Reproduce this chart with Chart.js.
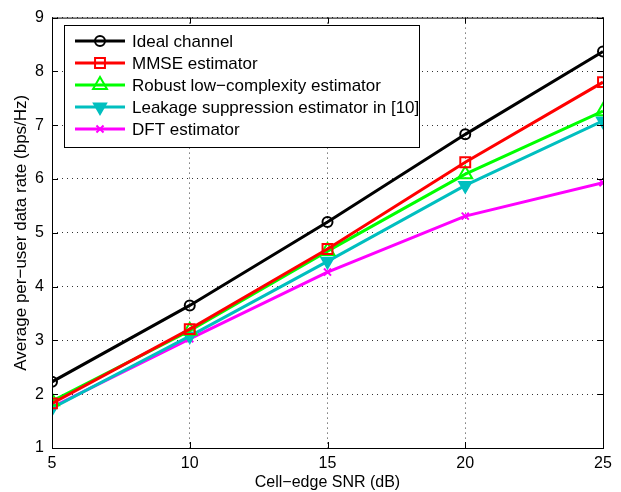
<!DOCTYPE html>
<html lang="en">
<head>
    <meta charset="UTF-8">
    <title>Per-user data rate vs cell-edge SNR</title>
    <script src="https://cdn.jsdelivr.net/npm/chart.js"></script>
    <style>
        body {
            margin: 0;
            padding: 0;
            background: #ffffff;
        }
        .chart-box {
            width: 621px;
            height: 492px;
        }
    </style>
</head>
<body>
    <div class="chart-box">
        <canvas id="rateChart" width="621" height="492"></canvas>
    </div>

    <script>
        // Data
        const snr = [5, 10, 15, 20, 25];
        const ideal = [2.23, 3.65, 5.20, 6.83, 8.37];
        const mmse = [1.83, 3.21, 4.70, 6.31, 7.80];
        const robust = [1.87, 3.18, 4.66, 6.09, 7.26];
        const leakage = [1.74, 3.08, 4.47, 5.88, 7.08];
        const dft = [1.76, 3.03, 4.27, 5.31, 5.93];
        const labels = ['Ideal channel', 'MMSE estimator', 'Robust low\u2212complexity estimator',
            'Leakage suppression estimator in [10]', 'DFT estimator'];

        const FONT = '"Liberation Sans", Arial, sans-serif';

        function pts(ys) {
            return snr.map((x, i) => ({ x: x, y: ys[i] }));
        }

        function series(label, ys, color, style, radius, fill, rotation) {
            return {
                label: label,
                data: pts(ys),
                borderColor: color,
                backgroundColor: fill ? color : 'rgba(0,0,0,0)',
                pointBorderColor: color,
                pointBackgroundColor: fill ? color : 'rgba(0,0,0,0)',
                pointStyle: style,
                pointRadius: radius,
                pointBorderWidth: 2,
                pointRotation: rotation || 0,
                borderWidth: 3,
                tension: 0,
                fill: false
            };
        }

        // axis box, inward ticks and the legend, MATLAB style
        const matlabFrame = {
            id: 'matlabFrame',
            afterDraw(chart) {
                const ctx = chart.ctx;
                const a = chart.chartArea;
                const xs = chart.scales.x, ys = chart.scales.y;
                ctx.save();
                ctx.strokeStyle = '#000';
                ctx.lineWidth = 1;
                ctx.strokeRect(a.left + 0.5, a.top + 0.5, a.right - a.left, a.bottom - a.top);
                ctx.beginPath();
                xs.ticks.forEach(t => {
                    const px = Math.round(xs.getPixelForValue(t.value)) + 0.5;
                    ctx.moveTo(px, a.bottom); ctx.lineTo(px, a.bottom - 6);
                    ctx.moveTo(px, a.top); ctx.lineTo(px, a.top + 6);
                });
                ys.ticks.forEach(t => {
                    const py = Math.round(ys.getPixelForValue(t.value)) + 0.5;
                    ctx.moveTo(a.left, py); ctx.lineTo(a.left + 6, py);
                    ctx.moveTo(a.right, py); ctx.lineTo(a.right - 6, py);
                });
                ctx.stroke();

                // legend
                const bx = 64, by = 25, bw = 355, bh = 122;
                ctx.fillStyle = '#fff';
                ctx.fillRect(bx, by, bw, bh);
                ctx.strokeRect(bx + 0.5, by + 0.5, bw, bh);
                chart.data.datasets.forEach((ds, i) => {
                    const y = by + 16 + i * 22;
                    ctx.strokeStyle = ds.borderColor;
                    ctx.lineWidth = ds.borderWidth;
                    ctx.beginPath();
                    ctx.moveTo(75, y); ctx.lineTo(125, y);
                    ctx.stroke();
                    ctx.lineWidth = ds.pointBorderWidth;
                    ctx.fillStyle = ds.pointBackgroundColor;
                    Chart.helpers.drawPoint(ctx, {
                        pointStyle: ds.pointStyle,
                        radius: ds.pointRadius,
                        rotation: ds.pointRotation,
                        borderWidth: ds.pointBorderWidth
                    }, 100, y);
                    ctx.fillStyle = '#000';
                    ctx.font = '17px ' + FONT;
                    ctx.textBaseline = 'middle';
                    ctx.fillText(ds.label, 132, y + 1);
                });
                ctx.restore();
            }
        };

        new Chart(document.getElementById('rateChart').getContext('2d'), {
            type: 'line',
            data: {
                datasets: [
                    series(labels[0], ideal, '#000000', 'circle', 5, false),
                    series(labels[1], mmse, '#ff0000', 'rect', 7, false),
                    series(labels[2], robust, '#00ff00', 'triangle', 8, false),
                    series(labels[3], leakage, '#00bfbf', 'triangle', 7, true, 180),
                    series(labels[4], dft, '#ff00ff', 'crossRot', 5, false)
                ]
            },
            options: {
                responsive: false,
                animation: false,
                layout: { padding: { top: 14, right: 18, left: 0, bottom: 0 } },
                plugins: {
                    legend: { display: false },
                    tooltip: { enabled: false }
                },
                scales: {
                    x: {
                        type: 'linear',
                        min: 5,
                        max: 25,
                        ticks: {
                            stepSize: 5,
                            color: '#000',
                            font: { family: FONT, size: 16 },
                            padding: 6,
                            maxRotation: 0
                        },
                        grid: { color: '#333', lineWidth: 1, drawTicks: false },
                        border: { display: false, dash: [1, 4] },
                        title: {
                            display: true,
                            text: 'Cell\u2212edge SNR (dB)',
                            color: '#000',
                            font: { family: FONT, size: 16 },
                            padding: { top: 1, bottom: 0 }
                        },
                        afterFit(scale) { scale.height = 44; }
                    },
                    y: {
                        min: 1,
                        max: 9,
                        ticks: {
                            stepSize: 1,
                            color: '#000',
                            font: { family: FONT, size: 16 },
                            padding: 8
                        },
                        grid: { color: '#333', lineWidth: 1, drawTicks: false },
                        border: { display: false, dash: [1, 4] },
                        title: {
                            display: true,
                            text: 'Average per\u2212user data rate (bps/Hz)',
                            color: '#000',
                            font: { family: FONT, size: 17 },
                            padding: { top: 11, bottom: 0 }
                        },
                        afterFit(scale) { scale.width = 52; }
                    }
                }
            },
            plugins: [matlabFrame]
        });
    </script>
</body>
</html>
